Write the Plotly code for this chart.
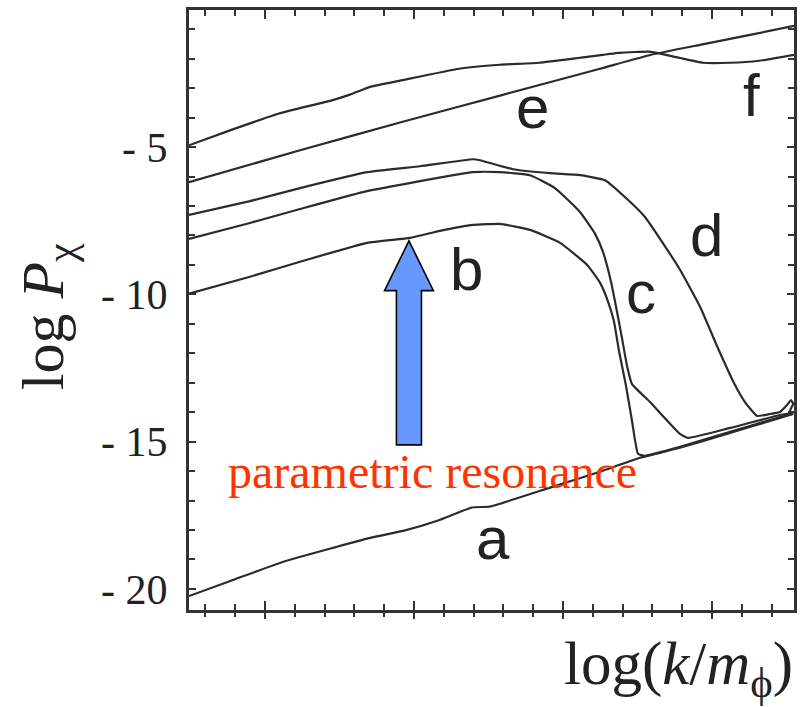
import plotly.graph_objects as go

# ---- data (log k/m_phi , log P_chi) ----
logk_a = [-0.510, -0.201, 0.134, 0.470, 0.718, 0.940, 1.161, 1.389, 1.510, 1.913, 2.248, 2.517, 2.785, 3.121, 3.456, 3.544]
logP_a = [-20.245, -19.671, -19.063, -18.590, -18.252, -18.015, -17.678, -17.238, -17.205, -16.563, -16.022, -15.549, -15.211, -14.705, -14.198, -14.063]

logk_b = [-0.510, -0.101, 0.235, 0.685, 0.973, 1.174, 1.396, 1.577, 1.779, 1.980, 2.161, 2.248, 2.302, 2.342, 2.376, 2.423, 2.463, 2.503, 2.550, 2.785, 3.121, 3.456, 3.537]
logP_b = [-9.975, -9.401, -8.894, -8.252, -8.083, -7.846, -7.644, -7.610, -7.813, -8.252, -8.995, -9.603, -10.245, -10.921, -11.934, -13.117, -14.299, -15.414, -15.482, -15.178, -14.671, -14.164, -14.063]

logk_c = [-0.510, -0.101, 0.235, 0.658, 1.040, 1.396, 1.577, 1.779, 1.946, 2.114, 2.215, 2.268, 2.322, 2.362, 2.396, 2.430, 2.463, 2.584, 2.785, 2.839, 3.121, 3.456, 3.537]
logP_c = [-8.117, -7.576, -7.103, -6.529, -6.157, -5.853, -5.853, -5.955, -6.394, -7.205, -7.948, -8.556, -9.569, -10.583, -11.495, -12.441, -13.049, -13.657, -14.738, -14.874, -14.536, -14.096, -14.029]

logk_d = [-0.510, -0.101, 0.235, 0.685, 1.040, 1.396, 1.443, 1.664, 1.913, 2.114, 2.282, 2.430, 2.550, 2.651, 2.785, 2.919, 3.034, 3.141, 3.221, 3.302, 3.389, 3.456, 3.503, 3.530, 3.544, 3.523, 3.544]
logP_d = [-7.306, -6.833, -6.394, -5.853, -5.651, -5.414, -5.448, -5.752, -5.887, -5.955, -6.124, -6.765, -7.374, -8.117, -9.164, -10.414, -11.765, -12.948, -13.657, -14.130, -14.063, -13.995, -13.759, -13.590, -13.725, -13.961, -14.063]

logk_e = [-0.510, 0.235, 0.906, 1.577, 2.248, 2.591, 2.919, 3.255, 3.550]
logP_e = [-6.191, -5.110, -4.164, -3.252, -2.340, -1.867, -1.529, -1.191, -0.887]

logk_f = [-0.510, -0.235, 0.094, 0.443, 0.570, 0.711, 0.906, 1.302, 1.577, 1.839, 2.114, 2.376, 2.591, 2.779, 2.940, 3.121, 3.315, 3.550]
logP_f = [-4.941, -4.434, -3.860, -3.421, -3.218, -2.948, -2.745, -2.340, -2.205, -2.137, -1.968, -1.799, -1.765, -1.968, -2.137, -2.137, -2.069, -1.867]

series = [("a", logk_a, logP_a), ("b", logk_b, logP_b), ("c", logk_c, logP_c),
          ("d", logk_d, logP_d), ("e", logk_e, logP_e), ("f", logk_f, logP_f)]

# curve labels (name, x, y)
label_names = ["a", "b", "c", "d", "e", "f"]
label_x = [1.530, 1.349, 2.523, 2.960, 1.792, 3.268]
label_y = [-18.29, -9.164, -9.94, -8.015, -3.66, -3.252]

# y tick labels
ytick_vals = [-5, -10, -15, -20]
ytick_text = ["- 5", "- 10", "- 15", "- 20"]

# arrow (parametric resonance) geometry in data units
arrow_x = 0.966
arrow_tip_y = -8.184
arrow_head_base_y = -9.874
arrow_bottom_y = -15.110
arrow_head_halfw = 0.164
arrow_shaft_halfw = 0.084

x_range = [-0.51, 3.55]
y_range = [-20.718, -0.346]

LINE = "#2b2b2b"
SERIF = "Liberation Serif"
SANS = "Liberation Sans"

fig = go.Figure()
for name, xs, ys in series:
    # curve "a" is drawn on the overlaid x-axis (same range) so its outer ticks render
    fig.add_trace(go.Scatter(x=xs, y=ys, mode="lines", name=name,
                             xaxis="x2" if name == "a" else "x",
                             line=dict(color=LINE, width=2.2, shape="spline", smoothing=0.4),
                             showlegend=False, hoverinfo="skip"))

# arrow shape
ax = arrow_x
path = (f"M {ax},{arrow_tip_y} L {ax + arrow_head_halfw},{arrow_head_base_y} "
        f"L {ax + arrow_shaft_halfw},{arrow_head_base_y} L {ax + arrow_shaft_halfw},{arrow_bottom_y} "
        f"L {ax - arrow_shaft_halfw},{arrow_bottom_y} L {ax - arrow_shaft_halfw},{arrow_head_base_y} "
        f"L {ax - arrow_head_halfw},{arrow_head_base_y} Z")
fig.add_shape(type="path", path=path, xref="x", yref="y",
              fillcolor="#6699ff", line=dict(color="black", width=1.6), layer="above")

annotations = []
for n, lx, ly in zip(label_names, label_x, label_y):
    annotations.append(dict(x=lx, y=ly, xref="x", yref="y", text=n, showarrow=False,
                            font=dict(family=SANS, size=60, color="#222"),
                            xanchor="center", yanchor="middle"))
annotations.append(dict(x=1.121, y=-16.016, xref="x", yref="y", text="parametric resonance",
                        showarrow=False, font=dict(family=SERIF, size=48, color="#ff3300"),
                        xanchor="center", yanchor="middle"))
annotations.append(dict(x=-0.2347, y=0.488, xref="paper", yref="paper",
                        text="log <i>P</i><sub>χ</sub>", textangle=-90, showarrow=False,
                        font=dict(family=SERIF, size=60, color="#222"),
                        xanchor="center", yanchor="middle"))
annotations.append(dict(x=1.0017, y=-0.0962, xref="paper", yref="paper",
                        text="log(<i>k</i>/<i>m</i><sub>ϕ</sub>)", showarrow=False,
                        font=dict(family=SERIF, size=61, color="#222"),
                        xanchor="right", yanchor="middle"))

fig.update_layout(
    width=807, height=707,
    margin=dict(l=189, r=13, t=7, b=97),
    paper_bgcolor="white", plot_bgcolor="white",
    annotations=annotations,
    xaxis=dict(range=x_range, showgrid=False, zeroline=False,
               showline=True, linecolor="#333", linewidth=3, mirror="ticks",
               ticks="inside", ticklen=9, tickwidth=2, tickcolor="#333",
               tickmode="linear", tick0=0, dtick=1, showticklabels=False,
               minor=dict(ticks="inside", ticklen=6, tickwidth=2, tickcolor="#333",
                          tick0=0, dtick=0.2, showgrid=False)),
    xaxis2=dict(range=x_range, overlaying="x", anchor="y", side="bottom",
                showgrid=False, zeroline=False, showline=False,
                ticks="outside", ticklen=8, tickwidth=2, tickcolor="#333",
                tickmode="linear", tick0=0, dtick=1, showticklabels=False,
                minor=dict(ticks="outside", ticklen=6, tickwidth=2, tickcolor="#333",
                           tick0=0, dtick=0.2, showgrid=False)),
    yaxis=dict(range=y_range, showgrid=False, zeroline=False,
               showline=True, linecolor="#333", linewidth=3, mirror="ticks",
               ticks="inside", ticklen=7, tickwidth=2, tickcolor="#333",
               tickmode="array", tickvals=ytick_vals, ticktext=ytick_text,
               ticklabelstandoff=10,
               tickfont=dict(family=SERIF, size=42, color="#222"),
               minor=dict(ticks="inside", ticklen=6, tickwidth=2, tickcolor="#333",
                          tickmode="linear", tick0=0, dtick=1, showgrid=False)),
)

fig.write_html("out.html", config={"displayModeBar": False, "displaylogo": False},
               post_script="document.body.style.margin='0';document.body.style.overflow='hidden';")
